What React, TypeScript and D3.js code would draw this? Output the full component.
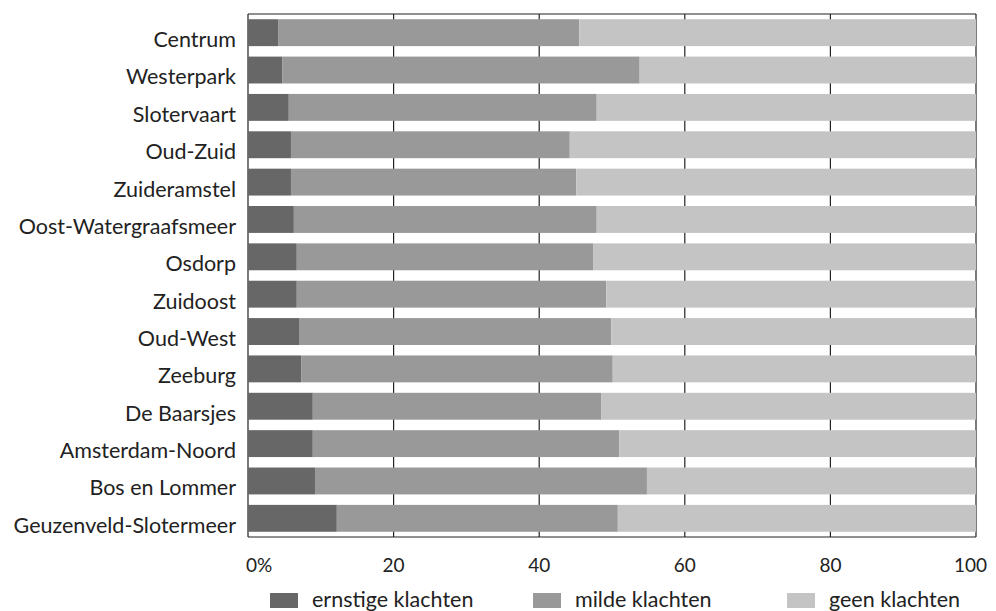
import React from "react";
import * as d3 from "d3";

const categories = [
  "Centrum",
  "Westerpark",
  "Slotervaart",
  "Oud-Zuid",
  "Zuideramstel",
  "Oost-Watergraafsmeer",
  "Osdorp",
  "Zuidoost",
  "Oud-West",
  "Zeeburg",
  "De Baarsjes",
  "Amsterdam-Noord",
  "Bos en Lommer",
  "Geuzenveld-Slotermeer",
];

const ernstig = [4.2, 4.7, 5.6, 5.9, 5.9, 6.3, 6.7, 6.7, 7.1, 7.3, 8.9, 8.9, 9.2, 12.2];
const mild = [41.3, 49.1, 42.3, 38.3, 39.2, 41.6, 40.7, 42.5, 42.8, 42.8, 39.6, 42.1, 45.6, 38.6];
const geen = categories.map((_, i) => 100 - ernstig[i] - mild[i]);

const seriesNames = ["ernstige klachten", "milde klachten", "geen klachten"];
const seriesColors = ["#676767", "#999999", "#c4c4c4"];
const tickValues = [0, 20, 40, 60, 80, 100];
const tickLabels = ["0%", "20", "40", "60", "80", "100"];

const W = 996;
const H = 611;
const FONT = "Lato, 'Open Sans', sans-serif";

export default function App() {
  const x = d3.scaleLinear().domain([0, 100]).range([248, 976]);
  const y = d3
    .scaleBand<string>()
    .domain(categories)
    .range([14, 537])
    .paddingInner(0.28)
    .paddingOuter(0.14);

  const rows = categories.map((c, i) => ({ cat: c, vals: [ernstig[i], mild[i], geen[i]] }));
  const stack = d3.stack<any>().keys(["0", "1", "2"]).value((d, k) => d.vals[+k]);
  const stacked = stack(rows);

  const legendX = [270, 533, 787];

  return (
    <svg width={W} height={H} style={{ position: "absolute", left: 0, top: 0, background: "#fff" }}>
      <rect width={W} height={H} fill="#fff" />
      {tickValues.map((t) => (
        <line key={t} x1={x(t)} x2={x(t)} y1={14} y2={537} stroke="#222" strokeWidth={1.2} />
      ))}
      <line x1={x(0)} x2={x(100)} y1={14} y2={14} stroke="#222" strokeWidth={1.2} />
      <line x1={x(0)} x2={x(100)} y1={537} y2={537} stroke="#222" strokeWidth={1.2} />
      {stacked.map((s, si) =>
        s.map((d, i) => (
          <rect
            key={si + "-" + i}
            x={x(d[0])}
            width={x(d[1]) - x(d[0])}
            y={y(categories[i])}
            height={y.bandwidth()}
            fill={seriesColors[si]}
          />
        ))
      )}
      {categories.map((c) => (
        <text
          key={c}
          x={236}
          y={(y(c) as number) + y.bandwidth() + 1}
          textAnchor="end"
          fontFamily={FONT}
          fontSize={21.5}
          fill="#222"
        >
          {c}
        </text>
      ))}
      {tickValues.map((t, i) => (
        <text
          key={t}
          x={i === 0 ? x(t) - 2 : i === tickValues.length - 1 ? x(t) + 11 : x(t)}
          y={572}
          textAnchor={i === 0 ? "start" : i === tickValues.length - 1 ? "end" : "middle"}
          fontFamily={FONT}
          fontSize={19}
          fill="#222"
        >
          {tickLabels[i]}
        </text>
      ))}
      {seriesNames.map((n, i) => (
        <g key={n}>
          <rect x={legendX[i]} y={593} width={28} height={15} fill={seriesColors[i]} />
          <text
            x={legendX[i] + 42}
            y={607}
            fontFamily={FONT}
            fontSize={21.5}
            fill="#222"
          >
            {n}
          </text>
        </g>
      ))}
    </svg>
  );
}
